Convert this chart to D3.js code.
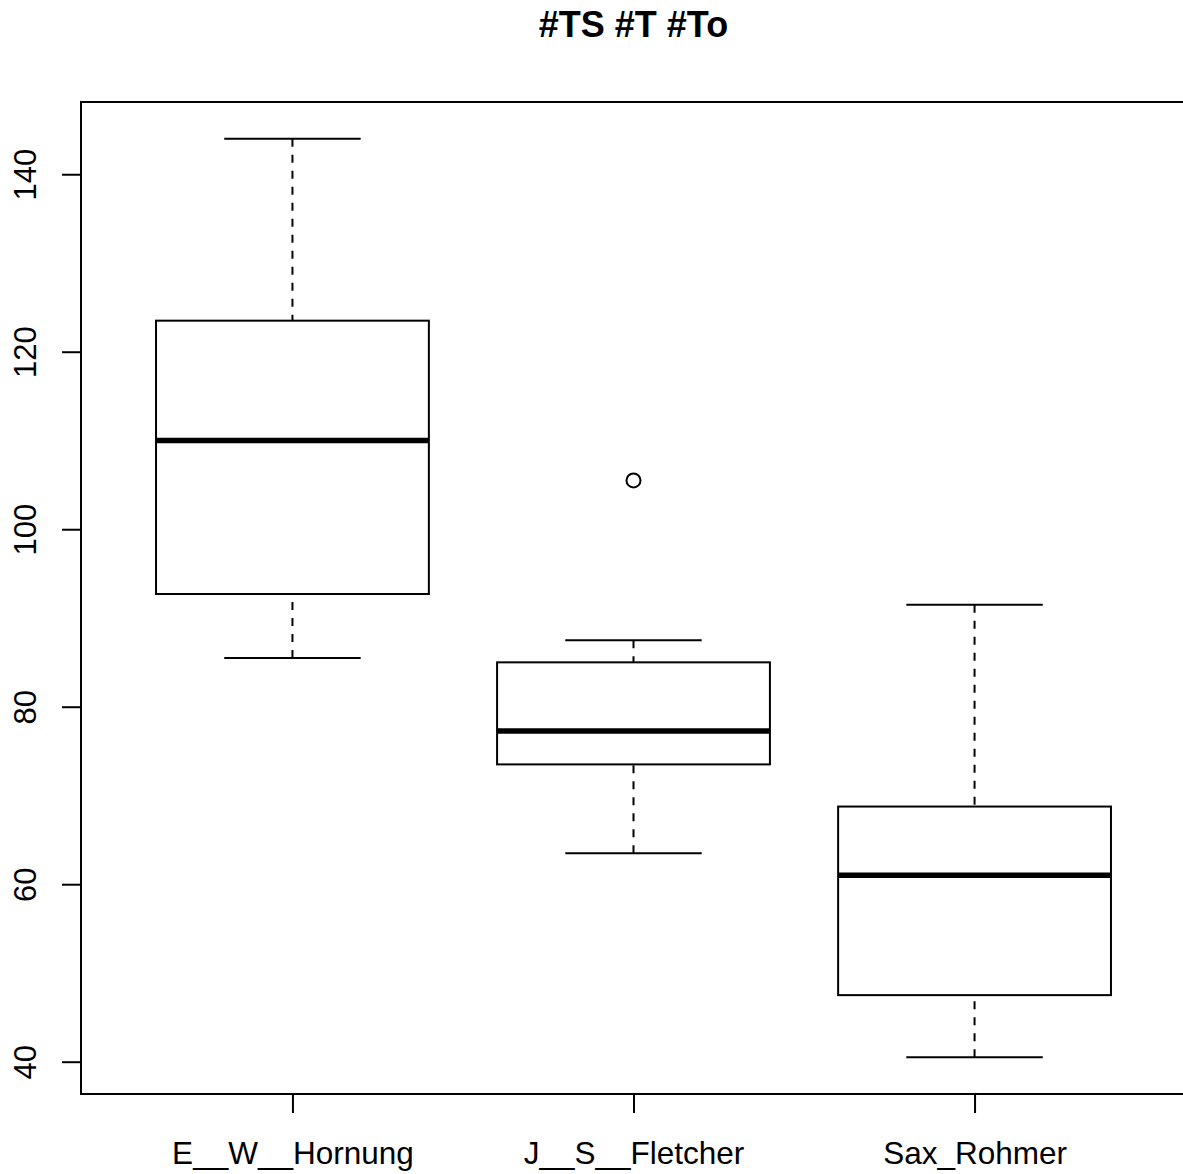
<!DOCTYPE html>
<html>
<head>
<meta charset="utf-8">
<script src="https://cdn.jsdelivr.net/npm/d3@7/dist/d3.min.js"></script>
<style>
  html, body { margin: 0; padding: 0; background: #fff; }
  svg { display: block; font-family: "Liberation Sans", Arial, Helvetica, sans-serif; }
</style>
</head>
<body>
<svg id="chart" width="1183" height="1174"></svg>
<script>
// Box-and-whisker summary per author
const categories = ["E__W__Hornung", "J__S__Fletcher", "Sax_Rohmer"];
const lowerWhisker = [85.5, 63.5, 40.5];
const lowerQuartile = [92.7, 73.5, 47.5];
const medians = [110.0, 77.25, 61.0];
const upperQuartile = [123.5, 85.0, 68.75];
const upperWhisker = [144.0, 87.5, 91.5];
const outliers = [[], [105.5], []];
const yTicks = [40, 60, 80, 100, 120, 140];
const title = "#TS #T #To";

const svg = d3.select("#chart");
const plot = { left: 81, top: 102, right: 1186, bottom: 1094 };

// value range padded by 4% on each side
const allVals = [...lowerWhisker, ...upperWhisker, ...outliers.flat()];
const lo = d3.min(allVals), hi = d3.max(allVals);
const pad = (hi - lo) * 0.04;

const x = d3.scaleLinear()
  .domain([0.5 - 0.12, categories.length + 0.5 + 0.12])
  .range([plot.left, plot.right]);
const y = d3.scaleLinear()
  .domain([lo - pad, hi + pad])
  .range([plot.bottom, plot.top]);

const boxHalf = 0.4, capHalf = 0.2;
const data = categories.map((c, i) => ({
  i: i + 1, name: c,
  lw: lowerWhisker[i], q1: lowerQuartile[i], med: medians[i],
  q3: upperQuartile[i], uw: upperWhisker[i], out: outliers[i]
}));

const g = svg.append("g");

const groups = g.selectAll("g.box").data(data).enter().append("g").attr("class", "box");

// dashed whiskers, drawn from whisker end toward the box
groups.append("line")
  .attr("x1", d => x(d.i)).attr("x2", d => x(d.i))
  .attr("y1", d => y(d.uw)).attr("y2", d => y(d.q3))
  .attr("stroke", "#000").attr("stroke-width", 2).attr("stroke-dasharray", "8,8");
groups.append("line")
  .attr("x1", d => x(d.i)).attr("x2", d => x(d.i))
  .attr("y1", d => y(d.lw)).attr("y2", d => y(d.q1))
  .attr("stroke", "#000").attr("stroke-width", 2).attr("stroke-dasharray", "8,8");

// whisker caps
groups.append("line")
  .attr("x1", d => x(d.i - capHalf)).attr("x2", d => x(d.i + capHalf))
  .attr("y1", d => y(d.uw)).attr("y2", d => y(d.uw))
  .attr("stroke", "#000").attr("stroke-width", 2);
groups.append("line")
  .attr("x1", d => x(d.i - capHalf)).attr("x2", d => x(d.i + capHalf))
  .attr("y1", d => y(d.lw)).attr("y2", d => y(d.lw))
  .attr("stroke", "#000").attr("stroke-width", 2);

// interquartile box
groups.append("rect")
  .attr("x", d => x(d.i - boxHalf))
  .attr("width", d => x(d.i + boxHalf) - x(d.i - boxHalf))
  .attr("y", d => y(d.q3))
  .attr("height", d => y(d.q1) - y(d.q3))
  .attr("fill", "none").attr("stroke", "#000").attr("stroke-width", 2);

// median
groups.append("line")
  .attr("x1", d => x(d.i - boxHalf)).attr("x2", d => x(d.i + boxHalf))
  .attr("y1", d => y(d.med)).attr("y2", d => y(d.med))
  .attr("stroke", "#000").attr("stroke-width", 5.5);

// outliers
groups.selectAll("circle").data(d => d.out.map(v => ({ i: d.i, v })))
  .enter().append("circle")
  .attr("cx", d => x(d.i)).attr("cy", d => y(d.v)).attr("r", 7)
  .attr("fill", "none").attr("stroke", "#000").attr("stroke-width", 2);

// frame
g.append("rect")
  .attr("x", plot.left).attr("y", plot.top)
  .attr("width", plot.right - plot.left).attr("height", plot.bottom - plot.top)
  .attr("fill", "none").attr("stroke", "#000").attr("stroke-width", 2);

// y axis
const yAxis = d3.axisLeft(y).tickValues(yTicks).tickSize(19).tickPadding(0).tickFormat(d3.format("d"));
const ya = g.append("g").attr("transform", `translate(${plot.left},0)`).call(yAxis);
ya.select(".domain").remove();
ya.selectAll(".tick line").attr("stroke", "#000").attr("stroke-width", 2);
ya.selectAll(".tick text").remove();
ya.selectAll(".tick").append("text")
  .attr("transform", "translate(-45,0) rotate(-90)")
  .attr("text-anchor", "middle")
  .attr("fill", "#000")
  .attr("font-size", 31)
  .text(d => d);

// x axis
const xAxis = d3.axisBottom(x).tickValues(data.map(d => d.i)).tickSize(19).tickFormat(v => categories[v - 1]);
const xa = g.append("g").attr("transform", `translate(0,${plot.bottom})`).call(xAxis);
xa.select(".domain").remove();
xa.selectAll(".tick line").attr("stroke", "#000").attr("stroke-width", 2);
xa.selectAll(".tick text")
  .attr("y", 70).attr("dy", 0)
  .attr("fill", "#000")
  .attr("font-size", 31.5)
  .attr("font-family", "Liberation Sans, Arial, sans-serif");

// title
svg.append("text")
  .attr("x", (plot.left + plot.right) / 2).attr("y", 37)
  .attr("text-anchor", "middle")
  .attr("font-weight", "bold")
  .attr("font-size", 36)
  .attr("fill", "#000")
  .text(title);
</script>
</body>
</html>
